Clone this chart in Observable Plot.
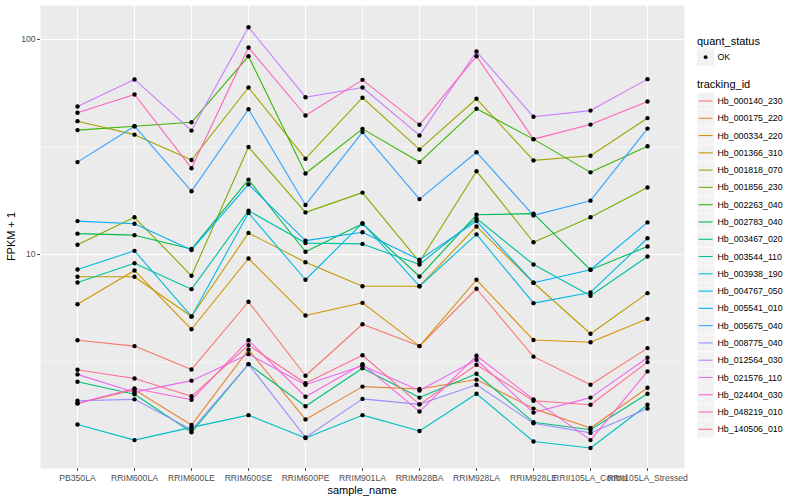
<!DOCTYPE html>
<html>
<head>
<meta charset="utf-8">
<script src="https://cdn.jsdelivr.net/npm/d3@7"></script>
<script src="https://cdn.jsdelivr.net/npm/@observablehq/plot@0.6"></script>
<style>
  html, body { margin: 0; padding: 0; background: white; }
  #chart { width: 800px; height: 500px; }
</style>
</head>
<body>
<div id="chart"></div>
<script>
const samples = ["PB350LA","RRIM600LA","RRIM600LE","RRIM600SE","RRIM600PE","RRIM901LA","RRIM928BA","RRIM928LA","RRIM928LE","RRII105LA_Control","RRII105LA_Stressed"];

const trackingIds = ["Hb_000140_230","Hb_000175_220","Hb_000334_220","Hb_001366_310","Hb_001818_070","Hb_001856_230","Hb_002263_040","Hb_002783_040","Hb_003467_020","Hb_003544_110","Hb_003938_190","Hb_004767_050","Hb_005541_010","Hb_005675_040","Hb_008775_040","Hb_012564_030","Hb_021576_110","Hb_024404_030","Hb_048219_010","Hb_140506_010"];

const palette = ["#F8766D","#EA8331","#D89000","#C09B00","#A3A500","#7CAE00","#39B600","#00BB4E","#00BF7D","#00C1A3","#00BFC4","#00BAE0","#00B0F6","#35A2FF","#9590FF","#C77CFF","#E76BF3","#FA62DB","#FF62BC","#FF6C91"];

// FPKM + 1 per sample (order of `samples`)
const Hb_000140_230 = [3.99, 3.75, 2.92, 6.03, 2.73, 4.74, 3.75, 6.93, 3.35, 2.48, 3.67];
const Hb_000175_220 = [2.03, 2.35, 1.61, 3.61, 1.71, 2.43, 2.37, 2.62, 1.92, 1.56, 2.40];
const Hb_000334_220 = [5.87, 8.43, 4.49, 9.58, 5.20, 5.96, 3.75, 7.63, 4.00, 3.91, 5.02];
const Hb_001366_310 = [7.88, 7.88, 5.15, 12.6, 9.21, 7.12, 7.12, 13.5, 7.39, 4.28, 6.61];
const Hb_001818_070 = [41.7, 36.1, 27.5, 59.8, 27.9, 53.6, 30.8, 53.0, 27.4, 28.8, 43.1];
const Hb_001856_230 = [11.1, 14.9, 7.96, 31.6, 15.7, 19.4, 9.25, 24.4, 11.4, 14.9, 20.5];
const Hb_002263_040 = [37.9, 39.5, 41.2, 83.6, 23.8, 38.4, 26.9, 47.6, 34.4, 24.1, 31.9];
const Hb_002783_040 = [12.5, 12.3, 10.6, 22.3, 10.3, 13.9, 7.90, 15.3, 15.5, 8.49, 10.9];
const Hb_003467_020 = [2.56, 2.24, 1.49, 3.09, 1.97, 2.96, 2.16, 2.79, 1.66, 1.53, 2.25];
const Hb_003544_110 = [7.41, 9.11, 6.90, 16.0, 11.3, 11.2, 8.98, 14.7, 8.98, 6.43, 9.79];
const Hb_003938_190 = [1.62, 1.37, 1.57, 1.79, 1.40, 1.79, 1.51, 2.25, 1.35, 1.26, 2.00];
const Hb_004767_050 = [8.52, 10.4, 5.15, 15.6, 7.63, 14.0, 7.12, 12.4, 5.94, 6.66, 11.9];
const Hb_005541_010 = [14.3, 13.9, 10.5, 21.2, 11.6, 12.7, 9.45, 14.3, 7.39, 8.49, 14.1];
const Hb_005675_040 = [26.9, 39.5, 19.7, 47.4, 17.0, 37.1, 18.1, 29.9, 15.2, 17.8, 38.5];
const Hb_008775_040 = [2.09, 2.12, 1.53, 3.09, 1.41, 2.13, 2.01, 2.48, 1.64, 1.48, 1.92];
const Hb_012564_030 = [48.8, 65.2, 37.7, 114, 53.9, 59.8, 35.8, 87.9, 43.7, 46.7, 65.4];
const Hb_021576_110 = [2.77, 2.29, 2.59, 3.44, 2.48, 3.04, 2.33, 3.24, 1.84, 2.16, 3.31];
const Hb_024404_030 = [2.03, 2.38, 2.11, 3.99, 2.18, 3.09, 1.86, 3.38, 2.12, 1.37, 2.86];
const Hb_048219_010 = [45.6, 55.5, 25.2, 91.8, 44.3, 64.9, 40.1, 83.6, 34.4, 40.2, 51.5];
const Hb_140506_010 = [2.91, 2.65, 2.19, 3.79, 2.52, 3.40, 2.01, 3.07, 2.09, 2.00, 3.16];

const seriesValues = [Hb_000140_230, Hb_000175_220, Hb_000334_220, Hb_001366_310, Hb_001818_070, Hb_001856_230, Hb_002263_040, Hb_002783_040, Hb_003467_020, Hb_003544_110, Hb_003938_190, Hb_004767_050, Hb_005541_010, Hb_005675_040, Hb_008775_040, Hb_012564_030, Hb_021576_110, Hb_024404_030, Hb_048219_010, Hb_140506_010];

const yTicks = [10, 100];
const yMinor = [Math.sqrt(10), Math.sqrt(1000)];
const statusLevels = ["OK"];

const rows = [];
trackingIds.forEach((id, i) => {
  samples.forEach((s, j) => rows.push({id, sample: s, value: seriesValues[i][j], status: "OK"}));
});

const FONT = "'Liberation Sans', Arial, Helvetica, sans-serif";

const plot = Plot.plot({
  width: 800,
  height: 500,
  marginLeft: 40,
  marginRight: 116,
  marginTop: 5,
  marginBottom: 32,
  style: {fontFamily: FONT, fontSize: "8.6px", color: "#4d4d4d", background: "white", overflow: "visible"},
  x: {type: "point", domain: samples, padding: 0.6, label: null},
  y: {type: "log", domain: [1.011, 143.9], label: null},
  color: {domain: trackingIds, range: palette},
  marks: [
    Plot.frame({fill: "#ebebeb", stroke: null}),
    Plot.ruleY(yMinor, {stroke: "white", strokeWidth: 0.55}),
    Plot.ruleY(yTicks, {stroke: "white", strokeWidth: 1.1}),
    Plot.ruleX(samples, {x: d => d, stroke: "white", strokeWidth: 1.1}),
    Plot.line(rows, {x: "sample", y: "value", z: "id", stroke: "id", strokeWidth: 1.1}),
    Plot.dot(rows, {x: "sample", y: "value", fill: "black", stroke: null, r: 2.2}),
    Plot.axisX({tickSize: 3, tickPadding: 3, color: "#4d4d4d", label: null}),
    Plot.axisY({ticks: yTicks, tickFormat: d => String(d), tickSize: 3, tickPadding: 2, color: "#4d4d4d", label: null})
  ]
});

document.getElementById("chart").appendChild(plot);

// Axis titles and legends (real SVG text)
const svg = d3.select(plot.tagName.toLowerCase() === "svg" ? plot : plot.querySelector("svg"));
const color = plot.scale("color");

svg.append("text")
  .attr("transform", "translate(15,236.5) rotate(-90)")
  .attr("text-anchor", "middle")
  .attr("font-family", FONT).attr("font-size", "11px").attr("fill", "black")
  .text("FPKM + 1");

svg.append("text")
  .attr("x", 362).attr("y", 494)
  .attr("text-anchor", "middle")
  .attr("font-family", FONT).attr("font-size", "11px").attr("fill", "black")
  .text("sample_name");

const lg = svg.append("g").attr("font-family", FONT).attr("text-anchor", "start");
lg.append("text").attr("x", 697).attr("y", 44.5).attr("text-anchor", "start").attr("font-size", "11px").attr("fill", "black").text("quant_status");
statusLevels.forEach((s, i) => {
  const cy = 57.2 + i * 17.28;
  lg.append("rect").attr("x", 697).attr("y", cy - 8.64).attr("width", 17.28).attr("height", 17.28).attr("fill", "#f2f2f2");
  lg.append("circle").attr("cx", 705.6).attr("cy", cy).attr("r", 1.9).attr("fill", "black");
  lg.append("text").attr("x", 717.5).attr("y", cy).attr("dy", "0.35em").attr("text-anchor", "start").attr("font-size", "8.8px").attr("fill", "black").text(s);
});

lg.append("text").attr("x", 697).attr("y", 87.5).attr("text-anchor", "start").attr("font-size", "11px").attr("fill", "black").text("tracking_id");
trackingIds.forEach((id, i) => {
  const cy = 101 + i * 17.28;
  lg.append("rect").attr("x", 697).attr("y", cy - 8.64).attr("width", 17.28).attr("height", 17.28).attr("fill", "#f2f2f2").attr("stroke", "white").attr("stroke-width", 0.5);
  lg.append("line").attr("x1", 698.7).attr("x2", 712.6).attr("y1", cy).attr("y2", cy).attr("stroke", color.apply(id)).attr("stroke-width", 1.1);
  lg.append("text").attr("x", 717.5).attr("y", cy).attr("dy", "0.35em").attr("text-anchor", "start").attr("font-size", "8.8px").attr("fill", "black").text(id);
});
</script>
</body>
</html>
